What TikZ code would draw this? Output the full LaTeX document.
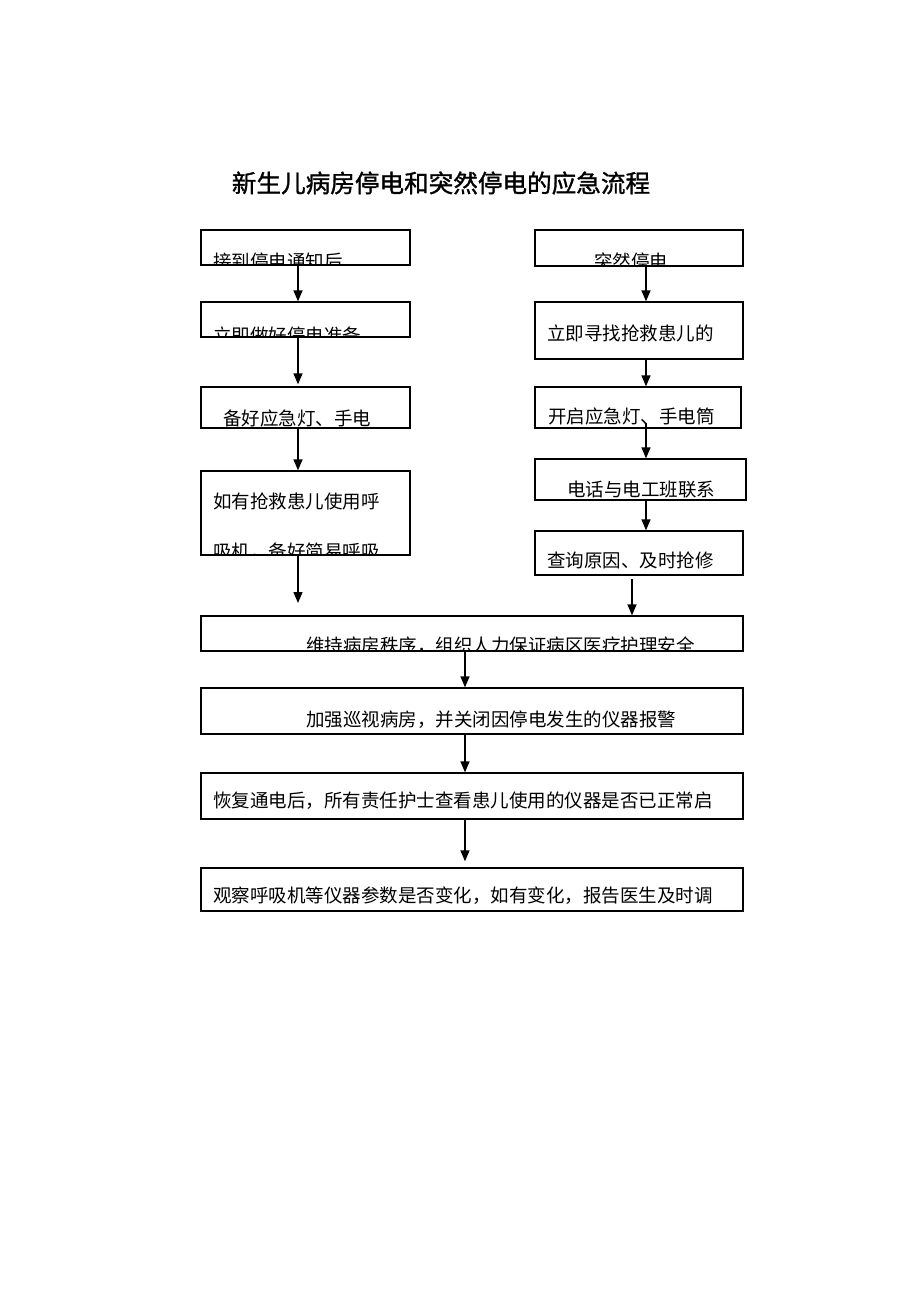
\documentclass[tikz,border=0pt]{standalone}
\usepackage{fontspec}
\newfontfamily\cjk{Noto Sans CJK SC}
\newfontfamily\cjktitle[FakeBold=1.2]{Noto Sans CJK SC}
\usetikzlibrary{arrows.meta}

% text of a box, cut off at the box border
\newcommand{\boxtext}[4]{%
  \begin{scope}
    \clip (#1.south west) rectangle (#1.north east);
    \node[txt] (#1t) at (#2,#3) {#4};
  \end{scope}}

\begin{document}
\begin{tikzpicture}
  [x=1pt,y=-1pt,
   box/.style={draw=black,line width=1.3pt,rectangle,inner sep=0pt},
   txt/.style={anchor=west,inner sep=0pt,font=\cjk\fontsize{18.5}{22}\selectfont},
   flow/.style={-{Triangle[length=11pt,width=9pt]},line width=1.3pt}]
  \fill[white] (0,0) rectangle (920,1302);
  \useasboundingbox (0,0) rectangle (920,1302);

  \node[inner sep=0pt,font=\cjktitle\fontsize{24.6}{28}\selectfont] (title) at (441,183) {新生儿病房停电和突然停电的应急流程};

  % left column
  \node[box,minimum width=209pt,minimum height=35pt] (jieDao) at (305.5,247.5) {};
  \node[box,minimum width=209pt,minimum height=35pt] (zhunBei) at (305.5,319.5) {};
  \node[box,minimum width=209pt,minimum height=41pt] (yingJi) at (305.5,407.5) {};
  \node[box,minimum width=209pt,minimum height=84pt] (huXi) at (305.5,513) {};

  % right column
  \node[box,minimum width=208pt,minimum height=36pt] (tuRan) at (639,248) {};
  \node[box,minimum width=208pt,minimum height=57pt] (xunZhao) at (639,330.5) {};
  \node[box,minimum width=206pt,minimum height=41pt] (kaiQi) at (638,407.5) {};
  \node[box,minimum width=211pt,minimum height=41pt] (dianHua) at (640.5,479.5) {};
  \node[box,minimum width=208pt,minimum height=44pt] (qiangXiu) at (639,553) {};

  % wide boxes
  \node[box,minimum width=542pt,minimum height=35pt] (zhiXu) at (472,633.5) {};
  \node[box,minimum width=542pt,minimum height=46pt] (xunShi) at (472,711) {};
  \node[box,minimum width=542pt,minimum height=46pt] (huiFu) at (472,796) {};
  \node[box,minimum width=542pt,minimum height=43pt] (guanCha) at (472,889.5) {};

  \boxtext{jieDao}{213}{261}{接到停电通知后}
  \boxtext{zhunBei}{213}{335}{立即做好停电准备}
  \boxtext{yingJi}{223}{418}{备好应急灯、手电}
  \boxtext{huXi}{213}{501}{如有抢救患儿使用呼}
  \begin{scope}
    \clip (huXi.south west) rectangle (huXi.north east);
    \node[txt] (huXis) at (213,552) {吸机，备好简易呼吸};
  \end{scope}
  \boxtext{tuRan}{594}{261}{突然停电}
  \boxtext{xunZhao}{547}{333}{立即寻找抢救患儿的}
  \boxtext{kaiQi}{548}{416}{开启应急灯、手电筒}
  \boxtext{dianHua}{567}{490}{电话与电工班联系}
  \boxtext{qiangXiu}{547}{560}{查询原因、及时抢修}
  \boxtext{zhiXu}{306}{646}{维持病房秩序，组织人力保证病区医疗护理安全}
  \boxtext{xunShi}{306}{720}{加强巡视病房，并关闭因停电发生的仪器报警}
  \boxtext{huiFu}{213}{801}{恢复通电后，所有责任护士查看患儿使用的仪器是否已正常启}
  \boxtext{guanCha}{213}{896}{观察呼吸机等仪器参数是否变化，如有变化，报告医生及时调}

  \coordinate (colL) at (298,0);
  \coordinate (colR) at (646,0);
  \coordinate (colM) at (465,0);
  \coordinate (huXiEnd) at (298,603);
  \coordinate (qiangXiuGap) at (632,579);

  \draw[flow] (jieDao.south -| colL) -- (zhunBei.north -| colL);
  \draw[flow] (zhunBei.south -| colL) -- ([yshift=2pt]yingJi.north -| colL);
  \draw[flow] (yingJi.south -| colL) -- (huXi.north -| colL);
  \draw[flow] (huXi.south -| colL) -- (huXiEnd);

  \draw[flow] (tuRan.south -| colR) -- (xunZhao.north -| colR);
  \draw[flow] (xunZhao.south -| colR) -- (kaiQi.north -| colR);
  \draw[flow] ([yshift=6pt]kaiQi.south -| colR) -- (dianHua.north -| colR);
  \draw[flow] (dianHua.south -| colR) -- (qiangXiu.north -| colR);
  \draw[flow] (qiangXiuGap) -- (zhiXu.north -| qiangXiuGap);

  \draw[flow] (zhiXu.south -| colM) -- (xunShi.north -| colM);
  \draw[flow] (xunShi.south -| colM) -- (huiFu.north -| colM);
  \draw[flow] (huiFu.south -| colM) -- ([yshift=6pt]guanCha.north -| colM);
\end{tikzpicture}
\end{document}
